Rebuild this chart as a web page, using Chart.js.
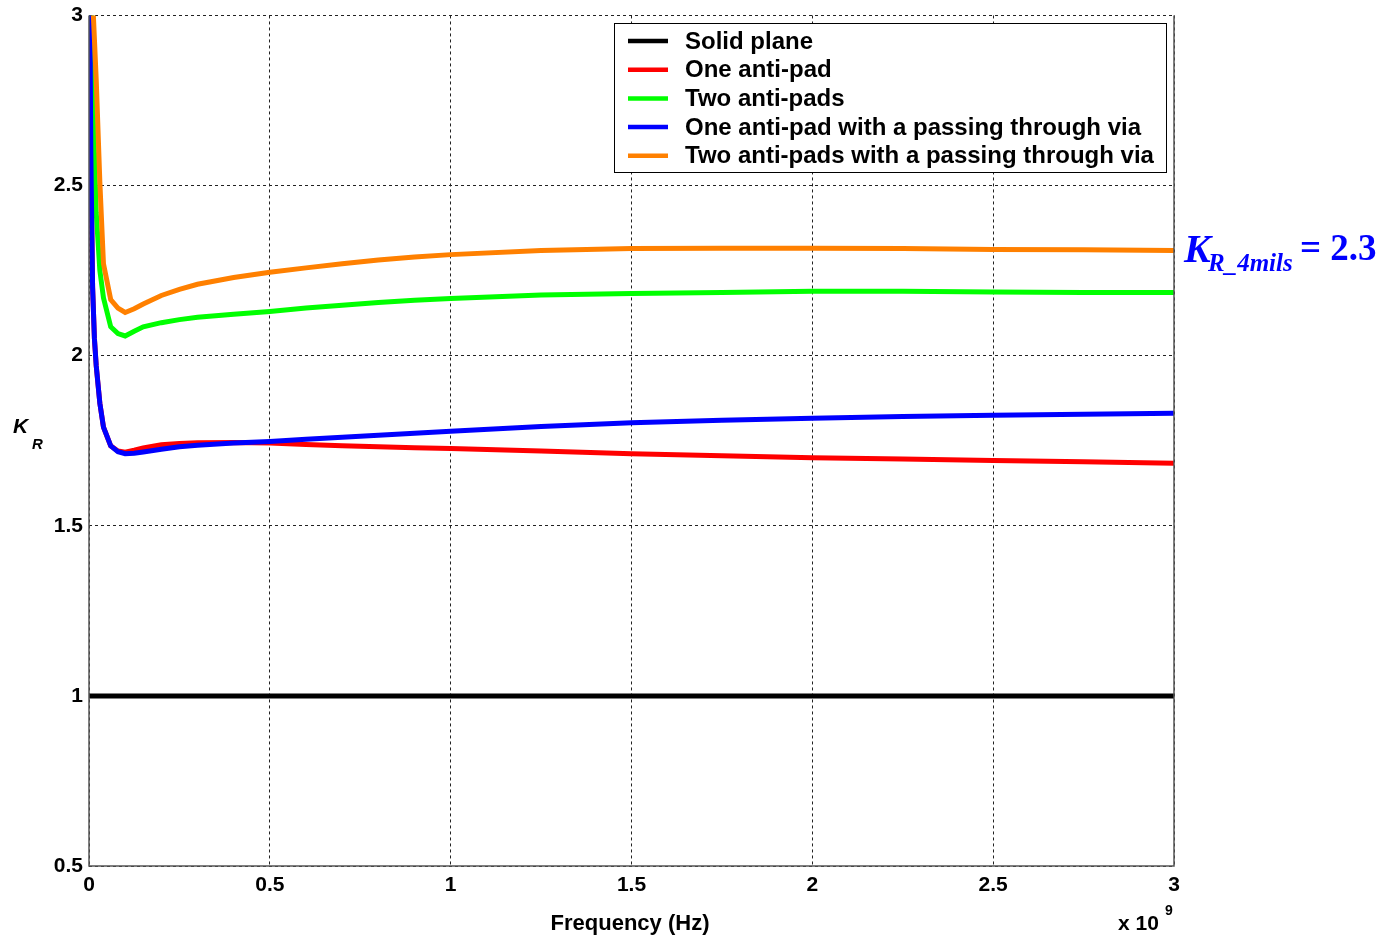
<!DOCTYPE html>
<html>
<head>
<meta charset="utf-8">
<script src="https://cdn.jsdelivr.net/npm/chart.js@4/dist/chart.umd.min.js"></script>
<style>
  html, body { margin: 0; padding: 0; background: #fff; }
  #wrap { width: 1387px; height: 940px; }
</style>
</head>
<body>
<div id="wrap"><canvas id="chart-kr"></canvas></div>
<script>
// K_R vs frequency for return-plane variants

// frequency in units of 1e9 Hz (axis shows "x 10^9")
const freqGHz = [0, 0.005, 0.01, 0.015, 0.02, 0.03, 0.04, 0.06, 0.08, 0.1, 0.125, 0.15, 0.2, 0.25, 0.3,
    0.4, 0.5, 0.6, 0.7, 0.8, 0.9, 1.0, 1.25, 1.5, 1.75, 2.0, 2.25, 2.5, 2.75, 3.0];

const solidPlane = freqGHz.map(() => 1);
const oneAntiPad = [3.4, 2.6, 2.2, 2.05, 1.97, 1.86, 1.79, 1.735, 1.72, 1.716, 1.722, 1.729, 1.738, 1.742, 1.744,
    1.745, 1.743, 1.739, 1.735, 1.732, 1.729, 1.727, 1.72, 1.712, 1.706, 1.70, 1.696, 1.692, 1.688, 1.684];
const twoAntiPads = [3.6, 3.1, 2.85, 2.6, 2.42, 2.25, 2.17, 2.085, 2.065, 2.058, 2.072, 2.085, 2.097, 2.106, 2.113,
    2.122, 2.13, 2.14, 2.148, 2.156, 2.163, 2.168, 2.178, 2.183, 2.186, 2.189, 2.189, 2.187, 2.186, 2.186];
const oneAntiPadVia = [3.4, 2.6, 2.2, 2.05, 1.97, 1.86, 1.79, 1.735, 1.718, 1.712, 1.713, 1.717, 1.725, 1.732, 1.737,
    1.743, 1.748, 1.754, 1.76, 1.766, 1.772, 1.778, 1.792, 1.803, 1.81, 1.816, 1.821, 1.825, 1.828, 1.831];
const twoAntiPadsVia = [4.2, 3.6, 3.05, 2.93, 2.81, 2.51, 2.27, 2.165, 2.14, 2.127, 2.138, 2.152, 2.177, 2.195, 2.21,
    2.23, 2.245, 2.258, 2.27, 2.281, 2.29, 2.297, 2.309, 2.315, 2.316, 2.316, 2.315, 2.312, 2.311, 2.309];

const seriesLabels = ['Solid plane', 'One anti-pad', 'Two anti-pads',
    'One anti-pad with a passing through via', 'Two anti-pads with a passing through via'];
const seriesValues = [solidPlane, oneAntiPad, twoAntiPads, oneAntiPadVia, twoAntiPadsVia];
const seriesColors = ['#000000', '#ff0000', '#00ff00', '#0000ff', '#ff8000'];

const xTicks = [0, 0.5, 1, 1.5, 2, 2.5, 3];
const yTicks = [0.5, 1, 1.5, 2, 2.5, 3];

const FONT = '"Liberation Sans", Arial, sans-serif';
const SERIF = '"Liberation Serif", "Times New Roman", serif';

const toPoints = vals => vals.map((v, i) => ({ x: freqGHz[i], y: v }));

// axes box, legend, labels and annotation
const decorations = {
    id: 'decorations',
    afterDatasetsDraw(chart) {
        const { ctx, chartArea: a } = chart;
        ctx.save();
        // solid box (top stays dotted like the grid)
        ctx.strokeStyle = '#555';
        ctx.lineWidth = 1.5;
        ctx.beginPath();
        ctx.moveTo(a.left, a.top);
        ctx.lineTo(a.left, a.bottom);
        ctx.lineTo(a.right, a.bottom);
        ctx.lineTo(a.right, a.top);
        ctx.stroke();

        // legend inside plot
        const lx = 614, ly = 23, lw = 552, lh = 149;
        ctx.fillStyle = '#fff';
        ctx.fillRect(lx, ly, lw, lh);
        ctx.strokeStyle = '#000';
        ctx.lineWidth = 1;
        ctx.strokeRect(lx + 0.5, ly + 0.5, lw, lh);
        ctx.font = 'bold 24px ' + FONT;
        ctx.textBaseline = 'middle';
        ctx.textAlign = 'left';
        seriesLabels.forEach((label, i) => {
            const y = 41 + i * 28.7;
            ctx.strokeStyle = seriesColors[i];
            ctx.lineWidth = 4.5;
            ctx.beginPath();
            ctx.moveTo(628, y);
            ctx.lineTo(668, y);
            ctx.stroke();
            ctx.fillStyle = '#000';
            ctx.fillText(label, 685, y + 1);
        });

        // axis titles
        ctx.fillStyle = '#000';
        ctx.textBaseline = 'alphabetic';
        ctx.textAlign = 'center';
        ctx.font = 'bold 22px ' + FONT;
        ctx.fillText('Frequency (Hz)', 630, 930);
        ctx.textAlign = 'left';
        ctx.font = 'bold 21px ' + FONT;
        ctx.fillText('x 10', 1118, 930);
        ctx.font = 'bold 14px ' + FONT;
        ctx.fillText('9', 1165, 915);
        ctx.font = 'italic bold 21px ' + FONT;
        ctx.fillText('K', 13, 433);
        ctx.font = 'italic bold 15px ' + FONT;
        ctx.fillText('R', 32, 449);

        // K_R_4mils annotation
        ctx.fillStyle = '#0000ff';
        ctx.font = 'italic bold 40px ' + SERIF;
        ctx.fillText('K', 1184, 262);
        ctx.font = 'italic bold 25px ' + SERIF;
        ctx.fillText('R_4mils', 1208, 271);
        ctx.font = 'bold 37px ' + SERIF;
        ctx.fillText('= 2.3', 1300, 260);
        ctx.restore();
    }
};

const tickFont = { family: FONT, size: 21, weight: 'bold', lineHeight: 0.9 };

new Chart(document.getElementById('chart-kr').getContext('2d'), {
    type: 'line',
    data: {
        datasets: seriesLabels.map((label, i) => ({
            label,
            data: toPoints(seriesValues[i]),
            borderColor: seriesColors[i],
            backgroundColor: seriesColors[i],
            borderWidth: 5,
            pointRadius: 0,
            tension: 0,
            fill: false,
            order: seriesLabels.length - i
        }))
    },
    options: {
        responsive: true,
        maintainAspectRatio: false,
        animation: false,
        layout: { padding: { top: 15, right: 213, left: 0, bottom: 0 } },
        plugins: { legend: { display: false }, tooltip: { enabled: false } },
        scales: {
            x: {
                type: 'linear',
                min: 0,
                max: 3,
                afterBuildTicks: s => { s.ticks = xTicks.map(v => ({ value: v })); },
                afterFit: s => { s.height = 74; },
                grid: { color: '#222', lineWidth: 1, drawTicks: false },
                border: { display: false, dash: [3, 3] },
                ticks: { color: '#000', padding: 10, maxRotation: 0, font: tickFont, callback: v => String(v) }
            },
            y: {
                type: 'linear',
                min: 0.5,
                max: 3,
                afterBuildTicks: s => { s.ticks = yTicks.map(v => ({ value: v })); },
                afterFit: s => { s.width = 89; },
                grid: { color: '#222', lineWidth: 1, drawTicks: false },
                border: { display: false, dash: [3, 3] },
                ticks: { color: '#000', padding: 6, font: tickFont, callback: v => String(v) }
            }
        }
    },
    plugins: [decorations]
});
</script>
</body>
</html>
